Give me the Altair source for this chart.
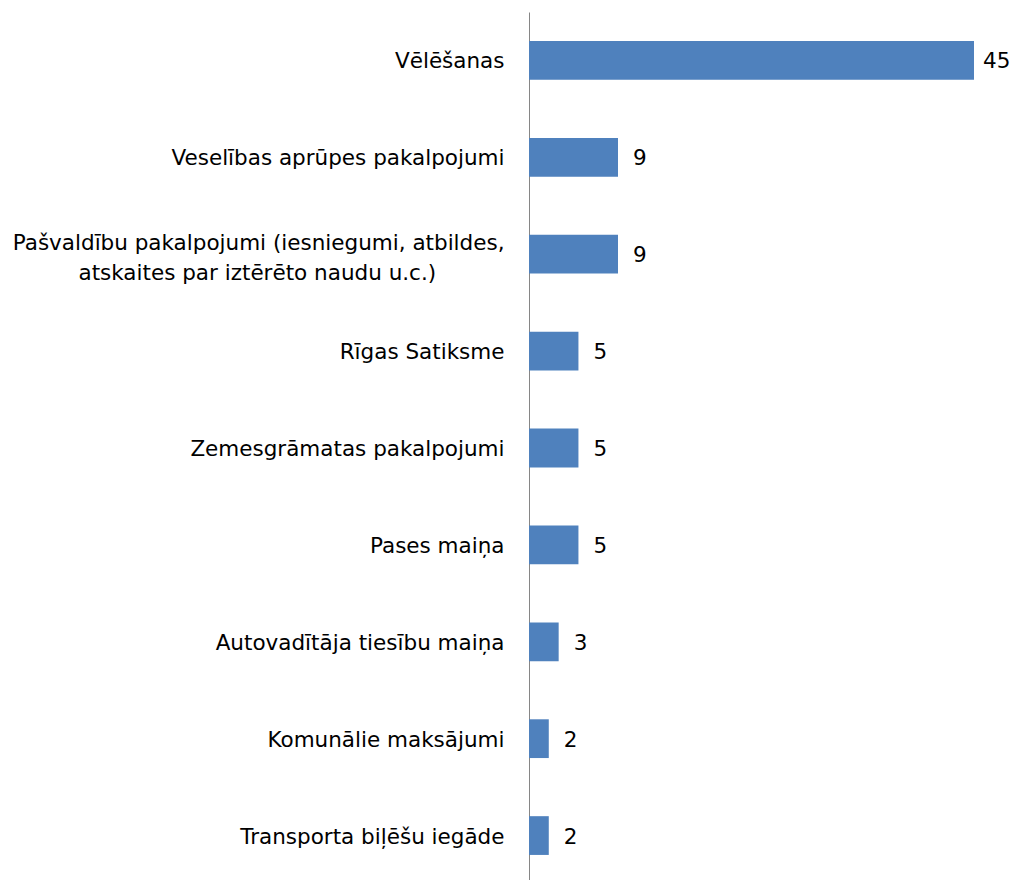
import altair as alt
import pandas as pd

categories = [
    "Vēlēšanas",
    "Veselības aprūpes pakalpojumi",
    "Pašvaldību pakalpojumi (iesniegumi, atbildes,|atskaites par iztērēto naudu u.c.)",
    "Rīgas Satiksme",
    "Zemesgrāmatas pakalpojumi",
    "Pases maiņa",
    "Autovadītāja tiesību maiņa",
    "Komunālie maksājumi",
    "Transporta biļēšu iegāde",
]
values = [45, 9, 9, 5, 5, 5, 3, 2, 2]

df = pd.DataFrame({"category": categories, "value": values})

FONT = "DejaVu Sans"
FS = 21.5
# pad the second line so that it sits centred under the first one
NB = "\u00a0" * 10 + "\u200b"

label_expr = (
    "indexof(datum.label, '|') >= 0 ? "
    "[split(datum.label, '|')[0], split(datum.label, '|')[1] + '" + NB + "'] : datum.label"
)

y = alt.Y(
    "category:N",
    sort=categories,
    scale=alt.Scale(paddingInner=0.6, paddingOuter=0.3),
    axis=alt.Axis(
        title=None,
        ticks=False,
        domainColor="#868686",
        domainWidth=1,
        labelFont=FONT,
        labelFontSize=FS,
        labelColor="#000000",
        labelPadding=25,
        labelLimit=0,
        labelLineHeight=30,
        labelExpr=label_expr,
        labelOffset={
            "condition": {"test": "indexof(datum.label, '|') >= 0", "value": -10},
            "value": 2,
        },
    ),
)
x = alt.X("value:Q", scale=alt.Scale(domain=[0, 45], nice=False), axis=None)

base = alt.Chart(df)
bars = base.mark_bar(color="#4F81BD").encode(x=x, y=y)
texts = base.transform_filter("datum.value < 45").mark_text(
    align="left", baseline="middle", dx=15, dy=2, font=FONT, fontSize=FS, color="#000000"
).encode(x=x, y=y, text="value:Q")
texts_top = base.transform_filter("datum.value >= 45").mark_text(
    align="left", baseline="middle", dx=9, dy=2, font=FONT, fontSize=FS, color="#000000"
).encode(x=x, y=y, text="value:Q")

chart = (
    (bars + texts + texts_top)
    .properties(
        width=445,
        height=872,
        background="white",
        autosize=alt.AutoSizeParams(type="none"),
        padding={"left": 521, "top": 4, "right": 37, "bottom": 0},
    )
    .configure_view(strokeWidth=0, stroke=None)
)

chart.save("out.html", embed_options={"renderer": "svg", "actions": False})
